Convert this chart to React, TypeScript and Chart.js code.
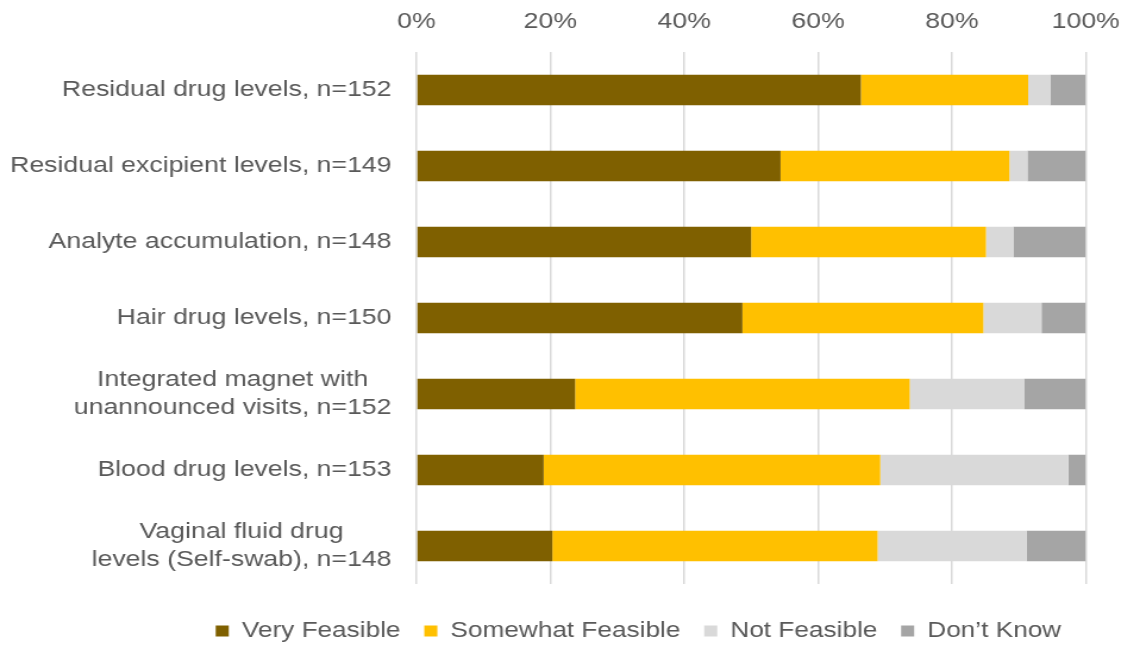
import { useEffect, useRef } from "react";
import { Chart, registerables } from "chart.js";

Chart.register(...registerables);

// Survey items (multi-line labels are kept as separate lines)
const categories: string[][] = [
  ["Residual drug levels, n=152"],
  ["Residual excipient levels, n=149"],
  ["Analyte accumulation, n=148"],
  ["Hair drug levels, n=150"],
  ["Integrated magnet with", "unannounced visits, n=152"],
  ["Blood drug levels, n=153"],
  ["Vaginal fluid drug", "levels (Self-swab), n=148"],
];

// Share of respondents (%) per answer
const veryFeasible = [66.4, 54.4, 50.0, 48.7, 23.7, 19.0, 20.3];
const somewhatFeasible = [25.0, 34.2, 35.1, 36.0, 50.0, 50.3, 48.6];
const notFeasible = [3.3, 2.7, 4.1, 8.7, 17.1, 28.1, 22.3];
const dontKnow = [5.3, 8.7, 10.8, 6.6, 9.2, 2.6, 8.8];

const seriesNames = ["Very Feasible", "Somewhat Feasible", "Not Feasible", "Don\u2019t Know"];
const seriesData = [veryFeasible, somewhatFeasible, notFeasible, dontKnow];
const seriesColors = ["#7F6000", "#FFC000", "#D9D9D9", "#A5A5A5"];

const PAGE_W = 1140;
const PAGE_H = 645;
// the drawing is rendered narrower and widened horizontally
const CANVAS_W = 958;

const FONT = '"Liberation Sans", Arial, Helvetica, sans-serif';
const TEXT = "#595959";

// Category labels: right-aligned blocks, each line centred within its block
const categoryLabelPlugin = {
  id: "categoryLabels",
  afterDraw(chart: any) {
    const { ctx, chartArea } = chart;
    const yScale = chart.scales.y;
    ctx.save();
    ctx.font = `22.4px ${FONT}`;
    ctx.fillStyle = TEXT;
    ctx.textAlign = "center";
    ctx.textBaseline = "middle";
    const right = chartArea.left - 21;
    const lineHeight = 27.6;
    categories.forEach((lines, i) => {
      const cy = yScale.getPixelForValue(i);
      const w = Math.max(...lines.map((l) => ctx.measureText(l).width));
      const cx = right - w / 2;
      lines.forEach((line, j) => {
        ctx.fillText(line, cx, cy + (j - (lines.length - 1) / 2) * lineHeight);
      });
    });
    ctx.restore();
  },
};

export default function App() {
  const canvasRef = useRef<HTMLCanvasElement | null>(null);

  useEffect(() => {
    const canvas = canvasRef.current;
    if (!canvas) return;
    const chart = new Chart(canvas, {
      type: "bar",
      data: {
        labels: categories.map((c) => c.join(" ")),
        datasets: seriesNames.map((name, k) => ({
          label: name,
          data: seriesData[k],
          backgroundColor: seriesColors[k],
          borderWidth: 0,
          barPercentage: 0.4,
          categoryPercentage: 1,
        })),
      },
      options: {
        indexAxis: "y",
        animation: false,
        responsive: false,
        devicePixelRatio: 1,
        layout: { padding: { left: 159, right: 44, top: 0, bottom: 0 } },
        scales: {
          x: {
            position: "top",
            stacked: true,
            min: 0,
            max: 100,
            ticks: {
              stepSize: 20,
              padding: 17,
              color: TEXT,
              font: { size: 22.4, family: FONT },
              callback: (v: any) => `${v}%`,
            },
            grid: { color: "#D9D9D9", lineWidth: 1.5, drawTicks: false },
            border: { display: false },
            afterFit: (s: any) => {
              s.height = 52;
            },
          },
          y: {
            stacked: true,
            grid: { display: false },
            border: { display: false },
            ticks: { display: false },
            afterFit: (s: any) => {
              s.width = 191;
            },
          },
          gap: {
            type: "linear",
            axis: "x",
            position: "bottom",
            display: true,
            grid: { display: false },
            border: { display: false },
            ticks: { display: false },
            afterFit: (s: any) => {
              s.height = 16;
            },
          },
        },
        plugins: {
          legend: {
            position: "bottom",
            maxHeight: 45,
            labels: {
              boxWidth: 11,
              boxHeight: 11,
              padding: 20,
              color: TEXT,
              font: { size: 22, family: FONT },
            },
          },
          tooltip: { enabled: false },
        },
      } as any,
      plugins: [categoryLabelPlugin],
    });
    return () => chart.destroy();
  }, []);

  return (
    <div
      style={{
        position: "fixed",
        left: 0,
        top: 0,
        width: PAGE_W,
        height: PAGE_H,
        overflow: "hidden",
        background: "#ffffff",
      }}
    >
      <div
        style={{
          width: CANVAS_W,
          height: PAGE_H,
          transform: `scaleX(${PAGE_W / CANVAS_W})`,
          transformOrigin: "0 0",
        }}
      >
        <canvas ref={canvasRef} width={CANVAS_W} height={PAGE_H} />
      </div>
    </div>
  );
}
